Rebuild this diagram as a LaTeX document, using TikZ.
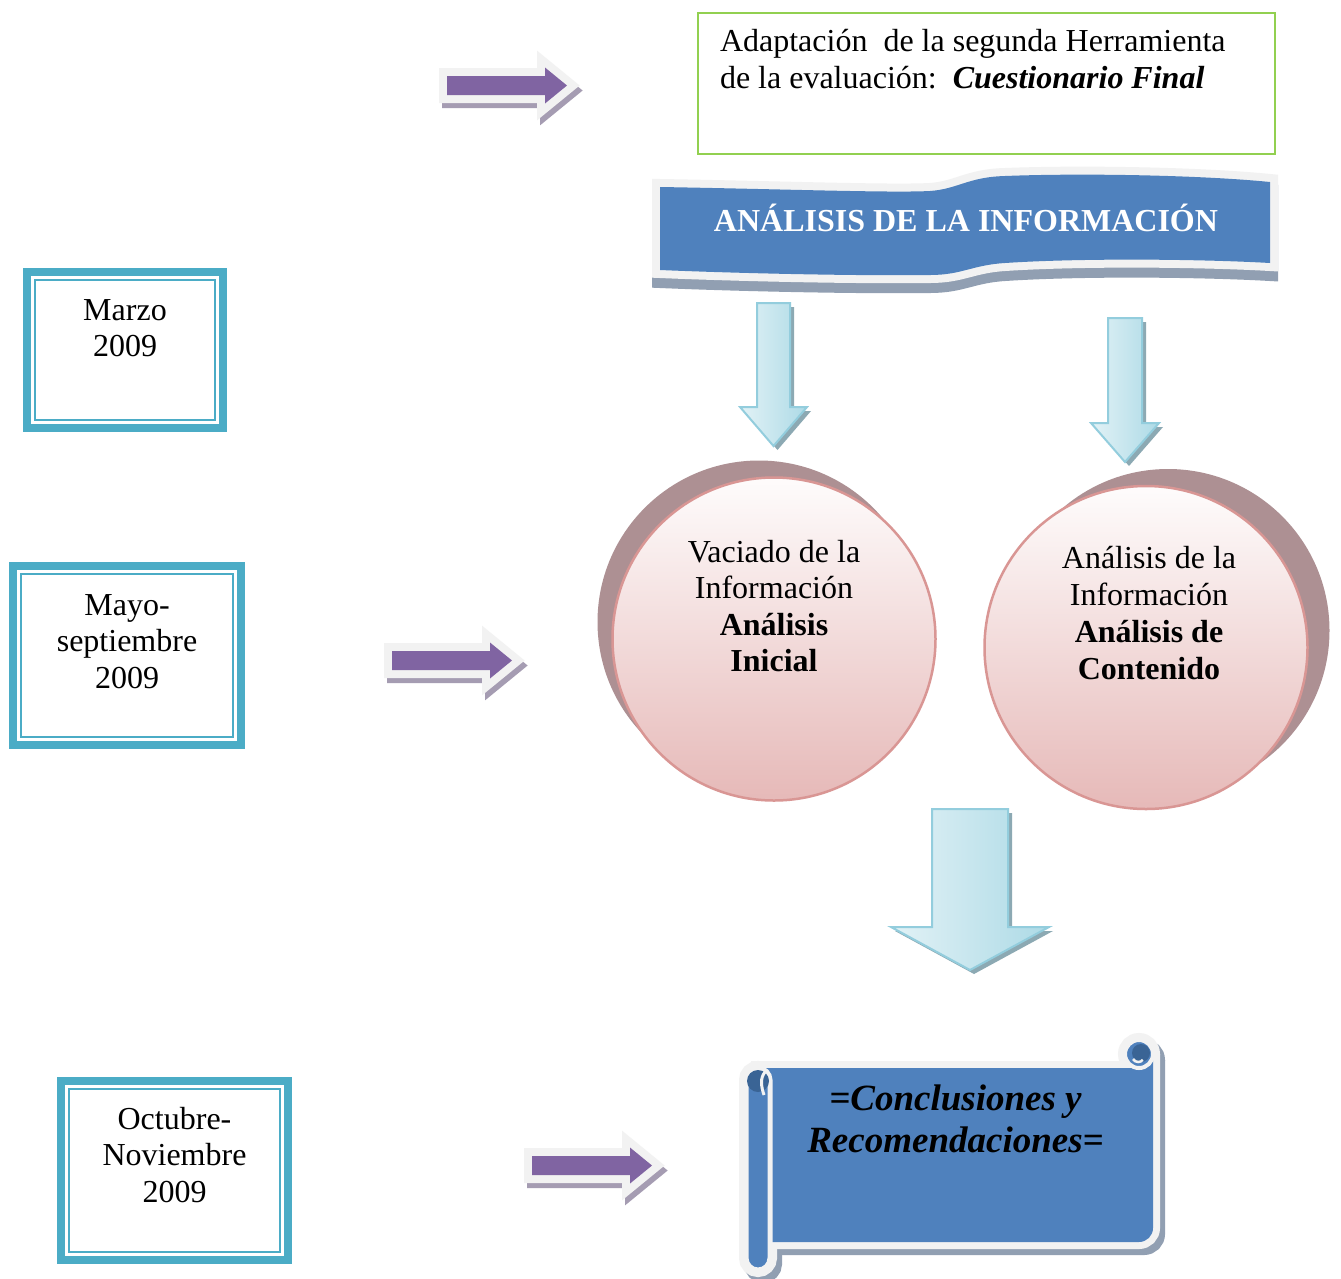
\documentclass[tikz,border=0pt]{standalone}
\usepackage{fontspec}
\setmainfont{Liberation Serif}

\definecolor{teal5}{HTML}{4BACC6}
\definecolor{leaf}{HTML}{92D050}
\definecolor{steel}{HTML}{4F81BD}
\definecolor{steeldark}{HTML}{3A6495}
\definecolor{violet4}{HTML}{8064A2}
\definecolor{violetshade}{HTML}{A59CB2}
\definecolor{rim}{HTML}{F2F2F2}
\definecolor{slate}{HTML}{919FB2}
\definecolor{rosetop}{HTML}{FEFCFC}
\definecolor{rosebot}{HTML}{E6B9B8}
\definecolor{roseline}{HTML}{D99694}
\definecolor{mauve}{HTML}{AD9093}
\definecolor{iceline}{HTML}{93CDDD}
\definecolor{icelight}{HTML}{E2F2F6}
\definecolor{icedark}{HTML}{ADDAE6}
\definecolor{iceshadow}{HTML}{8CA9B3}

% right-pointing block arrow, origin in the middle of its tail
\newcommand\violetpath{(0,-9.5) -- (98,-9.5) -- (98,-18) -- (120,0) -- (98,18) -- (98,9.5) -- (0,9.5) -- cycle}
\newcommand\violetarrow[1]{%
  \begin{scope}[shift={#1}]
    \draw[violetshade, line width=16pt, line join=miter, fill=violetshade, shift={(3,5)}] \violetpath;
    \draw[rim, line width=16pt, line join=miter] \violetpath;
    \fill[violet4] \violetpath;
  \end{scope}}

% downward block arrow: centre x, top, shaft half width, shaft bottom, head half width, tip
\newcommand\icepath[6]{({#1-#3},#2) -- ({#1+#3},#2) -- ({#1+#3},#4) -- ({#1+#5},#4) -- (#1,#6) -- ({#1-#5},#4) -- ({#1-#3},#4) -- cycle}
\newcommand\icearrow[6]{%
  \fill[iceshadow, shift={(4,4)}] \icepath{#1}{#2}{#3}{#4}{#5}{#6};
  \draw[iceline, line width=2pt, line join=miter, left color=icelight, right color=icedark] \icepath{#1}{#2}{#3}{#4}{#5}{#6};}

% wavy banner outline
\newcommand\bannerpath{(660,187) .. controls (780,189) and (890,193) .. (930,191) .. controls (958,189) and (968,177) .. (1005,176) .. controls (1080,173) and (1200,175) .. (1270,182) -- (1270,263) .. controls (1200,259) and (1080,258) .. (1005,263) .. controls (972,265) and (962,275) .. (930,275) .. controls (850,276) and (730,273) .. (660,270) -- cycle}

% scroll parts
\newcommand\scrollbody{(758,1068) -- (1139,1068) arc[start angle=90, end angle=0, radius=14] -- (1153,1228) arc[start angle=0, end angle=90, radius=14] -- (758,1242) -- cycle}
\newcommand\scrolltop{(1139,1054) circle (14)}
\newcommand\scrollside{[rounded corners=12pt] (746,1068) rectangle (770,1270)}

\begin{document}
\begin{tikzpicture}[x=1pt, y=-1pt,
  every node/.style={inner sep=0pt, outer sep=0pt, font=\fontsize{32}{36.6}\selectfont},
  datebox/.style={draw=teal5, line width=8pt, rectangle},
  bubble/.style={circle, minimum size=323pt, draw=roseline, line width=2.5pt, top color=rosetop, bottom color=rosebot},
  lines/.style={anchor=base}]

\useasboundingbox (0,0) rectangle (1341,1278);
\fill[white] (0,0) rectangle (1341,1278);

% ---------- dates ----------
\node[datebox, minimum width=196.6pt, minimum height=155.4pt] (marzo) at (125,350) {};
\draw[teal5, line width=2pt] ([shift={(8,8)}]marzo.north west) rectangle ([shift={(-8,-8)}]marzo.south east);
\node[lines] (marzot) at (125,320) {\begin{tabular}[t]{@{}c@{}}Marzo\\2009\end{tabular}};

\node[datebox, minimum width=228pt, minimum height=179pt] (mayo) at (127,655.5) {};
\draw[teal5, line width=2pt] ([shift={(8,8)}]mayo.north west) rectangle ([shift={(-8,-8)}]mayo.south east);
\node[lines] (mayot) at (127,615) {\begin{tabular}[t]{@{}c@{}}Mayo-\\septiembre\\2009\end{tabular}};

\node[datebox, minimum width=227pt, minimum height=179pt] (octubre) at (174.5,1170.5) {};
\draw[teal5, line width=2pt] ([shift={(8,8)}]octubre.north west) rectangle ([shift={(-8,-8)}]octubre.south east);
\node[lines] (octubret) at (174.5,1129) {\begin{tabular}[t]{@{}c@{}}Octubre-\\Noviembre\\2009\end{tabular}};

% ---------- purple arrows ----------
\violetarrow{(447,85.5)}
\violetarrow{(392,660.5)}
\violetarrow{(532,1165.5)}

% ---------- tool box ----------
\node[draw=leaf, line width=2pt, minimum width=577pt, minimum height=141pt] (tool) at (986.5,83.5) {};
\node[anchor=base west] (toolt) at (720,51.5) {\begin{tabular}[t]{@{}l@{}}Adaptación\ \ de la segunda Herramienta\\de la evaluación:\ \ \textbf{\textit{Cuestionario Final}}\end{tabular}};

% ---------- banner ----------
\draw[slate, line width=16pt, line join=miter, fill=slate, shift={(0,10)}] \bannerpath;
\draw[rim, line width=16pt, line join=miter] \bannerpath;
\fill[steel] \bannerpath;
\node[lines, text=white, font=\fontsize{32}{36}\selectfont\bfseries] (banner) at (966,231.7) {ANÁLISIS DE LA INFORMACIÓN};

% ---------- down arrows ----------
\icearrow{773.5}{303}{16.5}{407}{33.5}{446}
\icearrow{1125}{318}{17}{423}{34}{462}

% ---------- circles ----------
\fill[mauve] (759,622) circle (161.5);
\node[bubble] (vaciado) at (774,639) {};
\node[lines] (vaciadot) at (774,562) {\begin{tabular}[t]{@{}c@{}}Vaciado de la\\Información\\\textbf{Análisis}\\\textbf{Inicial}\end{tabular}};

\fill[mauve] (1168,630.5) circle (161.5);
\node[bubble] (contenido) at (1146,647.5) {};
\node[lines, font=\fontsize{32}{37.2}\selectfont] (contenidot) at (1149,568) {\begin{tabular}[t]{@{}c@{}}Análisis de la\\Información\\\textbf{Análisis de}\\\textbf{Contenido}\end{tabular}};

% ---------- big down arrow ----------
\icearrow{970}{809}{38}{927}{79}{970}

% ---------- scroll ----------
\begin{scope}[shift={(5,6)}]
  \draw[slate, line width=14pt, fill=slate] \scrollbody;
  \draw[slate, line width=14pt, fill=slate] \scrolltop;
  \draw[slate, line width=14pt, fill=slate] \scrollside;
\end{scope}
\draw[rim, line width=14pt] \scrollbody;
\draw[rim, line width=14pt] \scrolltop;
\draw[rim, line width=14pt] \scrollside;
\fill[steel] \scrollbody;
\draw[rim, line width=4pt, fill=steel] \scrolltop;
\draw[rim, line width=5pt, fill=steel] \scrollside;
% curls
\fill[steeldark] (1141,1053) circle (9);
\draw[rim, line width=2.5pt] (1133,1059) arc[start angle=150, end angle=40, radius=6];
\fill[steeldark] (758,1081) circle (11);
\draw[rim, line width=3pt] (765,1072) .. controls (760,1078) and (761,1086) .. (764,1095);
\node[lines, font=\fontsize{37}{42}\selectfont\bfseries\itshape] (concl) at (955.5,1110) {\begin{tabular}[t]{@{}c@{}}=Conclusiones y\\Recomendaciones=\end{tabular}};

\end{tikzpicture}
\end{document}
